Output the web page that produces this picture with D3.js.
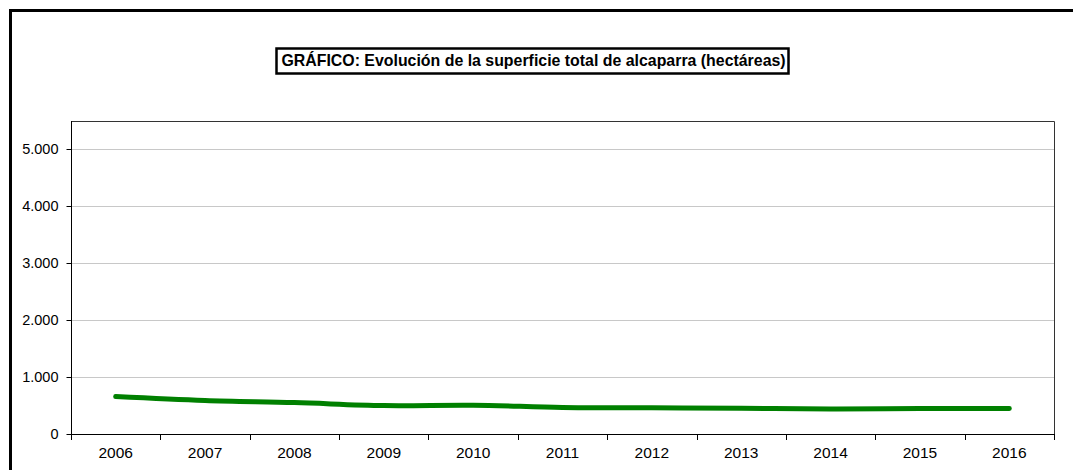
<!DOCTYPE html>
<html>
<head>
<meta charset="utf-8">
<script src="https://cdn.jsdelivr.net/npm/d3@7"></script>
<style>
  html, body { margin: 0; padding: 0; background: #fff; }
  svg { display: block; font-family: "Liberation Sans", Arial, sans-serif; }
</style>
</head>
<body>
<svg id="chart" width="1073" height="470"></svg>
<script>
const titleText = "GRÁFICO: Evolución de la superficie total de alcaparra (hectáreas)";
const years = ["2006","2007","2008","2009","2010","2011","2012","2013","2014","2015","2016"];
const areas = [658, 588, 552, 500, 505, 467, 462, 452, 440, 447, 450];
const yTicks = [0, 1000, 2000, 3000, 4000, 5000];
const yMax = 5500;

const svg = d3.select("#chart");
const W = 1073, H = 470;
const m = { left: 71, top: 121, right: 1054, bottom: 434 };

// outer frame
svg.append("rect")
  .attr("x", 10.5).attr("y", 10.5)
  .attr("width", W + 20).attr("height", H + 20)
  .attr("fill", "none").attr("stroke", "#000").attr("stroke-width", 3);

const x = d3.scaleBand().domain(years).range([m.left, m.right]).paddingInner(0).paddingOuter(0);
const y = d3.scaleLinear().domain([0, yMax]).range([m.bottom, m.top]);

// gridlines
svg.append("g").selectAll("line").data(yTicks.filter(d => d > 0)).join("line")
  .attr("x1", m.left).attr("x2", m.right)
  .attr("y1", d => Math.round(y(d)) + 0.5).attr("y2", d => Math.round(y(d)) + 0.5)
  .attr("stroke", "#c8c8c8").attr("stroke-width", 1);

// plot border (top/right)
svg.append("path")
  .attr("d", `M${m.left + 0.5},${m.top + 0.5}H${m.right + 0.5}V${m.bottom}`)
  .attr("fill", "none").attr("stroke", "#333").attr("stroke-width", 1);

// y axis
const yAxis = d3.axisLeft(y).tickValues(yTicks).tickSize(5).tickPadding(8)
  .tickFormat(d => d3.format(",")(d).replace(/,/g, "."));
const gy = svg.append("g").attr("transform", `translate(${m.left + 0.5},0)`).call(yAxis);
gy.select(".domain").attr("d", `M0,${m.top}V${m.bottom}`).attr("stroke", "#000");
gy.selectAll(".tick line").attr("stroke", "#000");
gy.selectAll(".tick text").attr("font-size", 14.5).attr("fill", "#000")
  .attr("font-family", "Liberation Sans, Arial, sans-serif");
gy.selectAll(".tick").attr("transform", d => `translate(0,${Math.round(y(d)) + 0.5})`);

// x axis (ticks between categories)
const boundaries = years.map(d => x(d)).concat([m.right]);
const gx = svg.append("g");
gx.append("line").attr("x1", m.left).attr("x2", m.right + 1)
  .attr("y1", m.bottom + 0.5).attr("y2", m.bottom + 0.5).attr("stroke", "#000");
gx.selectAll("line.tk").data(boundaries).join("line").attr("class", "tk")
  .attr("x1", d => Math.round(d) + 0.5).attr("x2", d => Math.round(d) + 0.5)
  .attr("y1", m.bottom).attr("y2", m.bottom + 6).attr("stroke", "#000");
gx.selectAll("text").data(years).join("text")
  .attr("x", d => x(d) + x.bandwidth() / 2)
  .attr("y", 458)
  .attr("text-anchor", "middle")
  .attr("font-size", 15.5)
  .attr("fill", "#000")
  .text(d => d);

// line
const line = d3.line()
  .x((d, i) => x(years[i]) + x.bandwidth() / 2)
  .y(d => y(d))
  .curve(d3.curveCardinal.tension(0));
svg.append("path").datum(areas)
  .attr("d", line)
  .attr("fill", "none")
  .attr("stroke", "#008000")
  .attr("stroke-width", 5)
  .attr("stroke-linecap", "round")
  .attr("stroke-linejoin", "round");

// title
const tg = svg.append("g");
const tt = tg.append("text")
  .attr("x", 533.5).attr("y", 66)
  .attr("text-anchor", "middle")
  .attr("font-weight", "bold")
  .attr("font-size", 15.9)
  .attr("fill", "#000")
  .text(titleText);
tg.insert("rect", "text")
  .attr("x", 276.5).attr("y", 48.5)
  .attr("width", 512).attr("height", 25)
  .attr("fill", "#fff").attr("stroke", "#000").attr("stroke-width", 2.5);
</script>
</body>
</html>
